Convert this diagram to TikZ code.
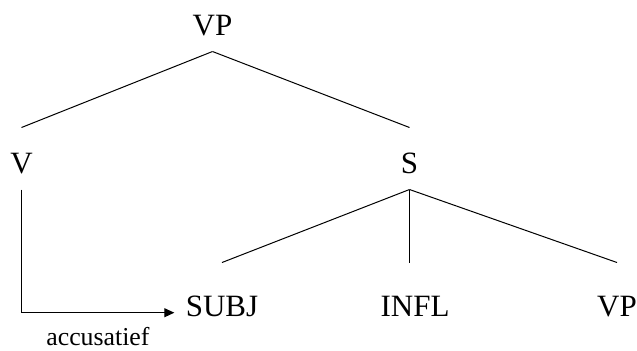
\documentclass[tikz,border=0pt]{standalone}
\usepackage{fontspec}
\setmainfont{Liberation Serif}
\usetikzlibrary{arrows.meta,positioning}
\tikzstyle{cat}=[anchor=base,inner sep=0pt,font=\fontsize{15.5}{18}\selectfont,text height=22.5pt,text depth=8pt]
\tikzstyle{leaf}=[cat,text height=26.5pt]
\tikzstyle{case}=[anchor=base,inner sep=0pt,font=\fontsize{12.9}{15}\selectfont]

\begin{document}
\begin{tikzpicture}[x=0.5pt,y=-0.5pt,line width=0.5pt]
\useasboundingbox (0,0) rectangle (637,350);
\draw (212.5, 35) node [cat] (vp) {VP};
\draw (21.5, 173) node [cat] (v) {V};
\draw (409.5, 173) node [cat] (s) {S};
\draw (222, 316) node [leaf] (subj) {SUBJ};
\draw (415, 316) node [leaf] (infl) {INFL};
\draw (617, 316) node [leaf] (vp2) {VP};
\draw (vp.south) -- (v.north);
\draw (vp.south) -- (s.north);
\draw (s.south) -- (subj.north);
\draw (s.south) -- (s.south |- infl.north);
\draw (s.south) -- (vp2.north);
\draw[-{Triangle[length=5pt,width=4.5pt]}] (v.south) |- ([xshift=-5.5pt,yshift=1.65pt]subj.base west) node[case, pos=0.75, yshift=-16.4pt] {accusatief};
\end{tikzpicture}
\end{document}
